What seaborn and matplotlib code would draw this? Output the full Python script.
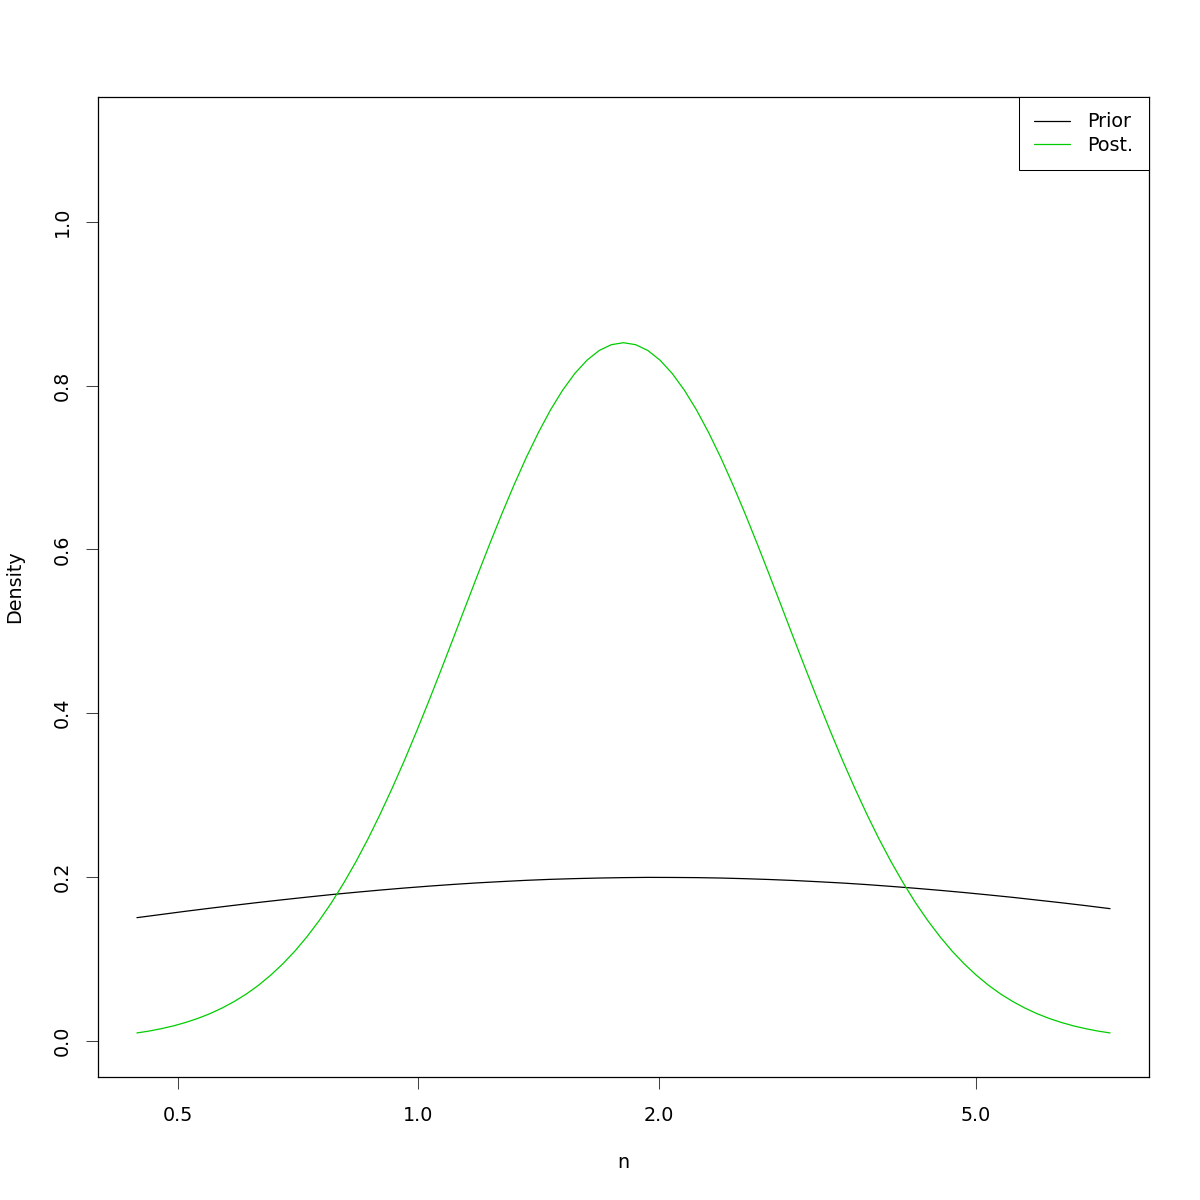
import matplotlib
matplotlib.use("Agg")
import matplotlib.pyplot as plt
import seaborn as sns
import pandas as pd
from matplotlib.ticker import FixedLocator, FixedFormatter, NullLocator
from matplotlib.lines import Line2D

# Prior curve
prior_n = [0.4440, 0.4763, 0.5109, 0.5480, 0.5879, 0.6307, 0.6765, 0.7257,
           0.7785, 0.8351, 0.8958, 0.9610, 1.0309, 1.1058, 1.1862, 1.2725,
           1.3651, 1.4643, 1.5709, 1.6851, 1.8076, 1.9391, 2.0801, 2.2314,
           2.3936, 2.5677, 2.7544, 2.9547, 3.1696, 3.4000, 3.6473, 3.9125,
           4.1970, 4.5022, 4.8296, 5.1808, 5.5576, 5.9617, 6.3952, 6.8603,
           7.3592]
prior_density = [0.1503, 0.1542, 0.1581, 0.1618, 0.1654, 0.1689, 0.1722, 0.1754,
                 0.1785, 0.1813, 0.1840, 0.1865, 0.1888, 0.1909, 0.1928, 0.1944,
                 0.1959, 0.1971, 0.1980, 0.1987, 0.1992, 0.1995, 0.1994, 0.1992,
                 0.1987, 0.1979, 0.1969, 0.1957, 0.1942, 0.1926, 0.1907, 0.1885,
                 0.1862, 0.1837, 0.1810, 0.1781, 0.1751, 0.1718, 0.1685, 0.1650,
                 0.1613]

# Posterior curve
post_n = [0.4440, 0.4599, 0.4763, 0.4933, 0.5109, 0.5291, 0.5480, 0.5676,
          0.5879, 0.6089, 0.6307, 0.6532, 0.6765, 0.7007, 0.7257, 0.7516,
          0.7785, 0.8063, 0.8351, 0.8649, 0.8958, 0.9278, 0.9610, 0.9953,
          1.0309, 1.0677, 1.1058, 1.1453, 1.1862, 1.2286, 1.2725, 1.3180,
          1.3651, 1.4139, 1.4643, 1.5166, 1.5709, 1.6270, 1.6851, 1.7453,
          1.8076, 1.8722, 1.9391, 2.0084, 2.0801, 2.1544, 2.2314, 2.3111,
          2.3936, 2.4791, 2.5677, 2.6594, 2.7544, 2.8528, 2.9547, 3.0603,
          3.1696, 3.2828, 3.4000, 3.5214, 3.6473, 3.7776, 3.9125, 4.0523,
          4.1970, 4.3469, 4.5022, 4.6630, 4.8296, 5.0021, 5.1808, 5.3659,
          5.5576, 5.7561, 5.9617, 6.1747, 6.3952, 6.6237, 6.8603, 7.1054,
          7.3592]
post_density = [0.0095, 0.0118, 0.0147, 0.0181, 0.0223, 0.0272, 0.0330, 0.0399,
                0.0479, 0.0571, 0.0678, 0.0801, 0.0940, 0.1097, 0.1274, 0.1470,
                0.1687, 0.1926, 0.2185, 0.2466, 0.2768, 0.3089, 0.3427, 0.3782,
                0.4150, 0.4528, 0.4912, 0.5300, 0.5686, 0.6066, 0.6435, 0.6788,
                0.7121, 0.7427, 0.7704, 0.7946, 0.8150, 0.8312, 0.8430, 0.8501,
                0.8525,
                0.8501, 0.8430, 0.8312, 0.8150, 0.7946, 0.7704, 0.7427, 0.7121,
                0.6788, 0.6435, 0.6066, 0.5686, 0.5300, 0.4912, 0.4528, 0.4150,
                0.3782, 0.3427, 0.3089, 0.2768, 0.2466, 0.2185, 0.1926, 0.1687,
                0.1470, 0.1274, 0.1097, 0.0940, 0.0801, 0.0678, 0.0571, 0.0479,
                0.0399, 0.0330, 0.0272, 0.0223, 0.0181, 0.0147, 0.0118, 0.0095]

series_labels = ["Prior", "Post."]
series_colors = ["black", "#00CD00"]
x_ticks = [0.5, 1.0, 2.0, 5.0]
x_tick_labels = ["0.5", "1.0", "2.0", "5.0"]
y_ticks = [0.0, 0.2, 0.4, 0.6, 0.8, 1.0]
y_tick_labels = ["0.0", "0.2", "0.4", "0.6", "0.8", "1.0"]

sns.set_style("white")
plt.rcParams["font.family"] = ["DejaVu Sans"]
plt.rcParams["text.color"] = "black"
plt.rcParams["axes.labelcolor"] = "black"
plt.rcParams["xtick.color"] = "black"
plt.rcParams["ytick.color"] = "black"
FS = 13.8

df = pd.DataFrame({
    "n": prior_n + post_n,
    "Density": prior_density + post_density,
    "series": [series_labels[0]] * len(prior_n) + [series_labels[1]] * len(post_n),
})

fig = plt.figure(figsize=(12, 12), dpi=100)
ax = fig.add_axes([98 / 1200, 1 - 1077 / 1200, (1149 - 98) / 1200, (1077 - 97) / 1200])

sns.lineplot(data=df, x="n", y="Density", hue="series",
             palette=dict(zip(series_labels, series_colors)),
             linewidth=0.9, ax=ax, legend=False, sort=True)

xmin, xmax = min(prior_n), max(prior_n)
ax.set_xscale("log")
ax.set_xlim(xmin / (xmax / xmin) ** 0.04, xmax * (xmax / xmin) ** 0.04)
ax.set_ylim(-0.0443, 1.1526)

ax.xaxis.set_major_locator(FixedLocator(x_ticks))
ax.xaxis.set_major_formatter(FixedFormatter(x_tick_labels))
ax.xaxis.set_minor_locator(NullLocator())
ax.set_yticks(y_ticks)
ax.set_yticklabels(y_tick_labels, rotation=90, va="center")

ax.tick_params(axis="both", which="major", direction="out", length=8.6, width=0.75,
               color="#444444", labelcolor="black", labelsize=FS, bottom=True, left=True)
ax.tick_params(axis="x", pad=12.5)
ax.tick_params(axis="y", pad=10)

for s in ax.spines.values():
    s.set_visible(True)
    s.set_color("black")
    s.set_linewidth(0.9)

ax.set_xlabel("n", fontsize=FS, va="center", ha="center", color="black")
ax.xaxis.set_label_coords(0.5, -(1163 - 1077) / 980)
ax.set_ylabel("Density", fontsize=FS, va="center", ha="center", color="black")
ax.yaxis.set_label_coords(-(98 - 15) / 1051, 0.5)

handles = [Line2D([0], [0], color=c, lw=0.9) for c in series_colors]
leg = ax.legend(handles, series_labels, loc="upper right", fontsize=FS,
                frameon=True, fancybox=False, framealpha=1, edgecolor="black",
                borderaxespad=0, handlelength=1.9, handletextpad=0.9,
                borderpad=0.8, labelspacing=0.25)
leg.get_frame().set_linewidth(0.75)
for t in leg.get_texts():
    t.set_color("black")

fig.savefig("out.png", dpi=100, facecolor="white")
